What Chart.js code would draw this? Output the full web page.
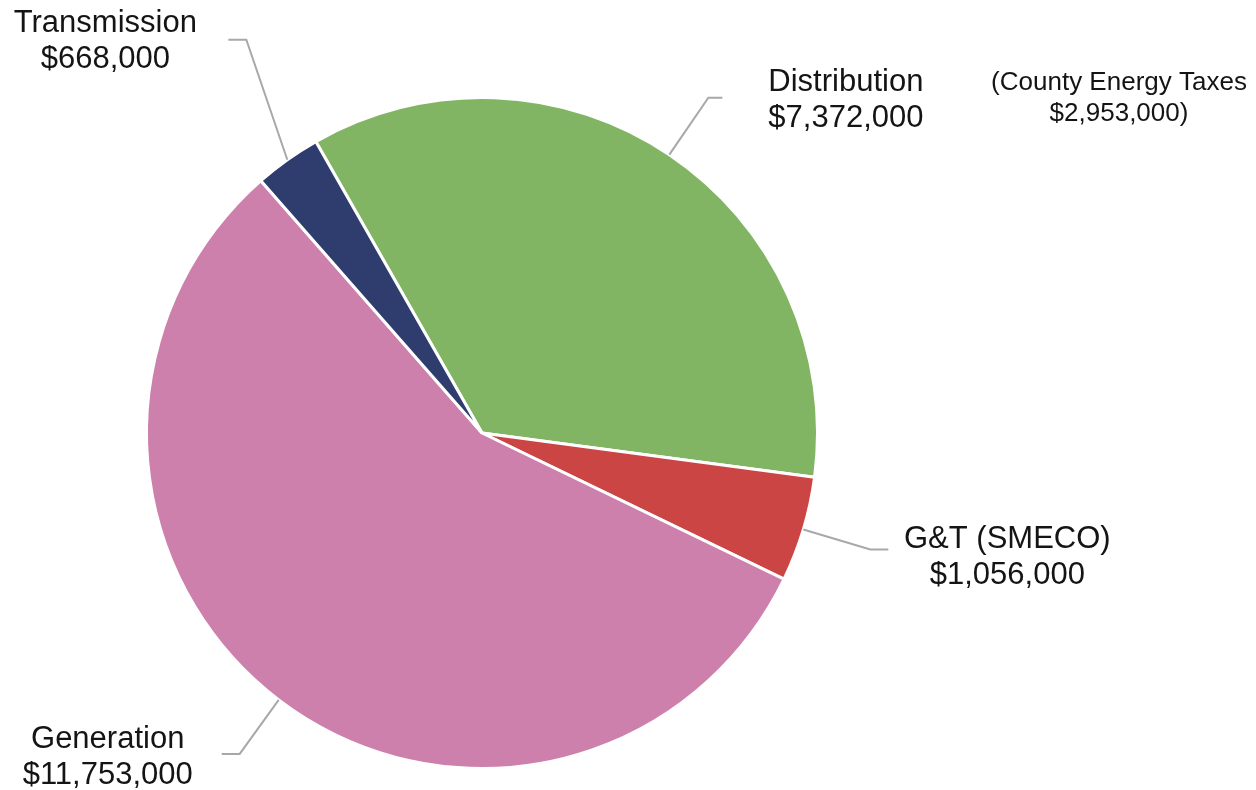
<!DOCTYPE html>
<html>
<head>
<meta charset="utf-8">
<script src="https://cdn.jsdelivr.net/npm/chart.js@4.4.1/dist/chart.umd.min.js"></script>
<style>
  html, body { margin: 0; padding: 0; background: #ffffff; }
  #wrap { width: 1256px; height: 790px; }
</style>
</head>
<body>
<div id="wrap"><canvas id="c" width="1256" height="790"></canvas></div>
<script>
// ---- Data ----
const categories = ["Distribution", "G&T (SMECO)", "Generation", "Transmission"];
const values = [7372000, 1056000, 11753000, 668000];
const valueLabels = ["$7,372,000", "$1,056,000", "$11,753,000", "$668,000"];
const noteLines = ["(County Energy Taxes", "$2,953,000)"];

// ---- Styles / layout (kept separate from data) ----
const colors = ["#82b563", "#cb4545", "#cd80ab", "#2e3d6e"];
const FONT = '"Liberation Sans", Arial, Helvetica, sans-serif';
// leader line: elbow offset from slice edge, horizontal run, text placement relative to line end
const leaderLayout = [
  { elbow: [39, -57],  run: 14,  text: [46, -7],   align: "left"   },
  { elbow: [67, 20],   run: 18,  text: [119, -1],  align: "center" },
  { elbow: [-39, 54],  run: -18, text: [-114, -6], align: "center" },
  { elbow: [-41, -120], run: -18, text: [-123, -8], align: "center" }
];

const labelPlugin = {
  id: "leaderLabels",
  afterDraw(chart) {
    const ctx = chart.ctx;
    const meta = chart.getDatasetMeta(0);
    ctx.save();
    meta.data.forEach((arc, i) => {
      const p = arc.getProps(["x", "y", "startAngle", "endAngle", "outerRadius"], true);
      const mid = (p.startAngle + p.endAngle) / 2;
      const sx = p.x + Math.cos(mid) * p.outerRadius;
      const sy = p.y + Math.sin(mid) * p.outerRadius;
      const L = leaderLayout[i];
      const ex = sx + L.elbow[0], ey = sy + L.elbow[1];
      const hx = ex + L.run;
      ctx.strokeStyle = "#a8a8a8";
      ctx.lineWidth = 2;
      ctx.beginPath();
      ctx.moveTo(sx, sy);
      ctx.lineTo(ex, ey);
      ctx.lineTo(hx, ey);
      ctx.stroke();

      ctx.fillStyle = "#141414";
      ctx.font = "31px " + FONT;
      ctx.textAlign = L.align;
      ctx.textBaseline = "alphabetic";
      const tx = hx + L.text[0], ty = ey + L.text[1];
      ctx.fillText(categories[i], tx, ty);
      ctx.fillText(valueLabels[i], tx, ty + 36);
    });
    // note text
    ctx.font = "26px " + FONT;
    ctx.textAlign = "center";
    ctx.fillStyle = "#141414";
    const a = chart.chartArea;
    ctx.fillText(noteLines[0], a.right + 155, 90);
    ctx.fillText(noteLines[1], a.right + 155, 121);
    ctx.restore();
  }
};

new Chart(document.getElementById("c"), {
  type: "pie",
  data: {
    labels: categories,
    datasets: [{
      data: values,
      backgroundColor: colors,
      borderColor: "#ffffff",
      borderWidth: 3,
      hoverOffset: 0
    }]
  },
  options: {
    responsive: false,
    animation: false,
    rotation: -29.7,
    layout: { padding: { left: 0, right: 292, top: 96, bottom: 20 } },
    plugins: {
      legend: { display: false },
      tooltip: { enabled: false }
    },
    events: []
  },
  plugins: [labelPlugin]
});
</script>
</body>
</html>
